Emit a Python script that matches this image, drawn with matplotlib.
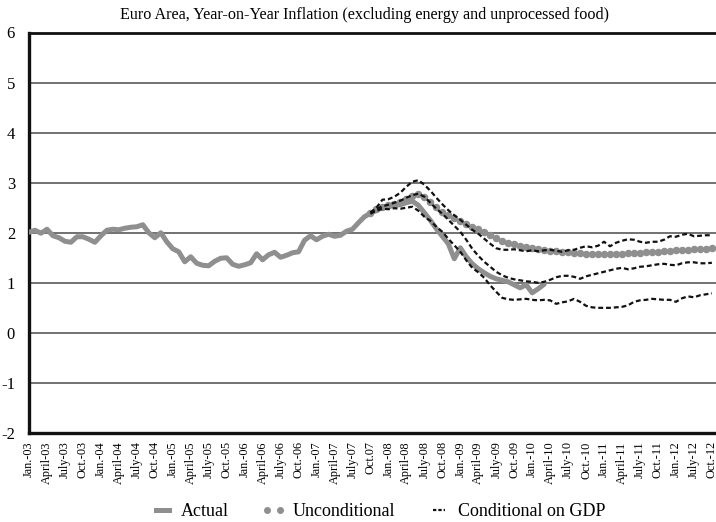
import matplotlib
matplotlib.use("Agg")
import matplotlib.pyplot as plt
from matplotlib.lines import Line2D
import numpy as np

plt.rcParams['font.family'] = ['Liberation Serif', 'DejaVu Serif']
plt.rcParams['axes.unicode_minus'] = False

title = "Euro Area, Year-on-Year Inflation (excluding energy and unprocessed food)"

# category axis: monthly, labels every third category
tick_labels = ["Jan.-03", "April-03", "July-03", "Oct.-03",
               "Jan.-04", "April-04", "July-04", "Oct.-04",
               "Jan.-05", "April-05", "July-05", "Oct.-05",
               "Jan.-06", "April-06", "July-06", "Oct.-06",
               "Jan.-07", "April-07", "July-07", "Oct.07",
               "Jan.-08", "April-08", "July-08", "Oct.-08",
               "Jan.-09", "April-09", "July-09", "Oct.-09",
               "Jan.-10", "April-10", "July-10", "Oct.-10",
               "Jan.-11", "April-11", "July-11", "Oct.-11",
               "Jan.-12", "July-12", "Oct.-12"]

actual = [2.01, 2.05, 1.99, 2.07, 1.94, 1.90, 1.83, 1.81, 1.92, 1.92,
          1.87, 1.81, 1.94, 2.05, 2.07, 2.06, 2.09, 2.11, 2.12, 2.16,
          2.00, 1.90, 2.00, 1.82, 1.68, 1.62, 1.42, 1.52, 1.39, 1.35,
          1.34, 1.43, 1.49, 1.50, 1.37, 1.33, 1.36, 1.40, 1.58, 1.46,
          1.56, 1.61, 1.51, 1.55, 1.60, 1.62, 1.85, 1.94, 1.86, 1.93,
          1.97, 1.93, 1.95, 2.03, 2.07, 2.20, 2.32, 2.39, 2.45, 2.50,
          2.52, 2.55, 2.56, 2.60, 2.63, 2.55, 2.40, 2.25, 2.08, 1.93,
          1.78, 1.48, 1.70, 1.52, 1.38, 1.28, 1.20, 1.13, 1.08, 1.05,
          1.02, 0.96, 0.90, 0.96, 0.80, 0.88, 0.97]

forecast_start = 57  # Oct.-07

unconditional = [2.40, 2.48, 2.52, 2.55, 2.58, 2.62, 2.68, 2.73, 2.77, 2.72,
                 2.62, 2.52, 2.42, 2.35, 2.30, 2.24, 2.18, 2.12, 2.07, 2.01,
                 1.95, 1.89, 1.84, 1.80, 1.77, 1.74, 1.72, 1.70, 1.68, 1.66,
                 1.64, 1.63, 1.62, 1.61, 1.60, 1.59, 1.58, 1.58, 1.57, 1.57,
                 1.57, 1.58, 1.58, 1.59, 1.59, 1.60, 1.61, 1.62, 1.62, 1.63,
                 1.64, 1.65, 1.65, 1.66, 1.67, 1.67, 1.68, 1.69]

cond_upper = [2.40, 2.50, 2.66, 2.67, 2.72, 2.80, 2.92, 3.02, 3.05, 2.96,
              2.84, 2.70, 2.57, 2.45, 2.35, 2.26, 2.16, 2.06, 1.98, 1.88,
              1.78, 1.69, 1.66, 1.66, 1.67, 1.65, 1.63, 1.65, 1.63, 1.65,
              1.66, 1.64, 1.62, 1.65, 1.66, 1.70, 1.73, 1.71, 1.74, 1.82,
              1.73, 1.80, 1.84, 1.87, 1.86, 1.82, 1.80, 1.82, 1.82, 1.86,
              1.93, 1.92, 1.96, 1.98, 1.93, 1.94, 1.95, 1.95]

cond_median = [2.40, 2.47, 2.53, 2.56, 2.60, 2.64, 2.70, 2.75, 2.78, 2.72,
               2.60, 2.48, 2.38, 2.26, 2.14, 2.02, 1.86, 1.68, 1.54, 1.42,
               1.32, 1.22, 1.15, 1.10, 1.07, 1.05, 1.03, 1.02, 1.00, 1.02,
               1.06, 1.11, 1.14, 1.14, 1.12, 1.08, 1.13, 1.16, 1.19, 1.22,
               1.25, 1.28, 1.30, 1.27, 1.29, 1.32, 1.33, 1.35, 1.37, 1.38,
               1.36, 1.35, 1.39, 1.41, 1.41, 1.39, 1.39, 1.40]

cond_lower = [2.38, 2.44, 2.48, 2.47, 2.49, 2.48, 2.50, 2.52, 2.44, 2.32,
              2.24, 2.12, 2.02, 1.88, 1.75, 1.62, 1.45, 1.30, 1.21, 1.10,
              0.95, 0.82, 0.70, 0.67, 0.66, 0.67, 0.68, 0.66, 0.65, 0.66,
              0.65, 0.58, 0.61, 0.63, 0.68, 0.62, 0.54, 0.51, 0.50, 0.50,
              0.50, 0.51, 0.52, 0.55, 0.62, 0.65, 0.66, 0.68, 0.67, 0.66,
              0.66, 0.62, 0.69, 0.73, 0.71, 0.75, 0.77, 0.79]

y_ticks = [-2, -1, 0, 1, 2, 3, 4, 5, 6]

gray = "#8f8f8f"

fig = plt.figure(figsize=(7.16, 5.22), dpi=100)
ax = fig.add_axes([29 / 716, 89 / 522, 696 / 716, 400.5 / 522])

x_act = np.arange(len(actual))
x_fc = np.arange(forecast_start, forecast_start + len(unconditional))

for yv in y_ticks:
    ax.axhline(yv, color="#4a4a4a", lw=1.1, zorder=1)

ax.plot(x_act, actual, color=gray, lw=3.6, solid_joinstyle='round',
        solid_capstyle='round', zorder=3)
ax.plot(x_fc, unconditional, linestyle='none', marker='o', markersize=4.4,
        markerfacecolor=gray, markeredgecolor=gray, zorder=2)
for s in (cond_upper, cond_median, cond_lower):
    ax.plot(x_fc, s, color="#111111", lw=1.6, dashes=(2.2, 1.3), zorder=4)

ax.set_xlim(0, 696 / 5.99)
ax.set_ylim(-2, 6)
ax.set_yticks(y_ticks)
ax.set_yticklabels([str(v) for v in y_ticks], fontsize=12)
ax.set_xticks(np.arange(0, 3 * len(tick_labels), 3))
ax.set_xticklabels(tick_labels, rotation=90, fontsize=8.8)
ax.tick_params(axis='both', length=0)
ax.tick_params(axis='y', pad=10)
ax.tick_params(axis='x', pad=6)

for side in ('left', 'bottom', 'top'):
    ax.spines[side].set_color("#111111")
ax.spines['left'].set_linewidth(2.4)
ax.spines['bottom'].set_linewidth(2.4)
ax.spines['top'].set_linewidth(2.0)
ax.spines['right'].set_visible(False)

fig.text(365 / 716, 1 - 15 / 522, title, ha='center', va='center', fontsize=11.6)

handles = [
    Line2D([0], [0], color=gray, lw=3.6),
    Line2D([0], [0], linestyle='none', marker='o', markersize=4.0,
           markerfacecolor=gray, markeredgecolor=gray),
    Line2D([0], [0], color="#111111", lw=1.6, dashes=(1.5, 0.9)),
]
labels = ["Actual", "Unconditional", "Conditional on GDP"]
fig.legend(handles, labels, loc='center', bbox_to_anchor=(378 / 716, 1 - 512 / 522),
           ncol=3, frameon=False, fontsize=13, handlelength=1.3,
           handletextpad=0.4, columnspacing=1.8, numpoints=2, borderpad=0)

fig.savefig("out.png", dpi=100)
